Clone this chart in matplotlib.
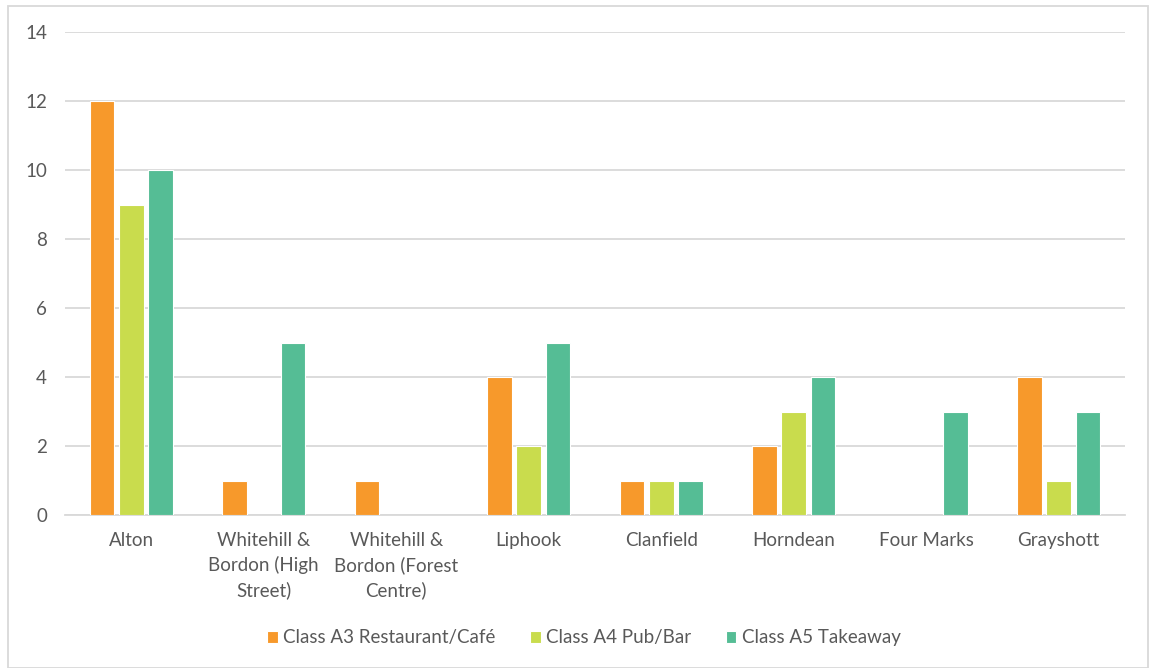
import numpy as np
import matplotlib
matplotlib.use("Agg")
import matplotlib.pyplot as plt
from matplotlib.patches import Rectangle

# Town centres and counts of units by use class
towns = ["Alton", "Whitehill &\nBordon (High\nStreet)", "Whitehill &\nBordon (Forest\nCentre)",
         "Liphook", "Clanfield", "Horndean", "Four Marks", "Grayshott"]
series_names = ["Class A3 Restaurant/Café", "Class A4 Pub/Bar", "Class A5 Takeaway"]
a3_restaurant_cafe = [12, 1, 1, 4, 1, 2, 0, 4]
a4_pub_bar = [9, 0, 0, 2, 1, 3, 0, 1]
a5_takeaway = [10, 5, 0, 5, 1, 4, 3, 3]
y_ticks = [0, 2, 4, 6, 8, 10, 12, 14]

colors = ["#F7992B", "#C9DC4D", "#55BD95"]
text_color = "#595959"

plt.rcParams["font.family"] = ["Lato", "DejaVu Sans"]

fig = plt.figure(figsize=(11.51, 6.68), dpi=100)
ax = fig.add_axes([65 / 1151, 153 / 668, 1060 / 1151, 483 / 668])

x = np.arange(len(towns))
slot = 0.22
for i, (vals, name, c) in enumerate(zip([a3_restaurant_cafe, a4_pub_bar, a5_takeaway], series_names, colors)):
    v = np.array(vals, dtype=float)
    v[v == 0] = np.nan
    ax.bar(x + (i - 1) * slot, v, width=0.185, color=c, edgecolor="white",
           linewidth=0.8, label=name, zorder=3)

ax.set_xlim(-0.5, len(towns) - 0.5)
ax.set_ylim(0, 14)
ax.set_yticks(y_ticks)
ax.set_xticks(x)
ax.set_xticklabels(towns, linespacing=1.5)
ax.yaxis.grid(True, color="#D9D9D9", linewidth=1.3, zorder=0)
ax.set_axisbelow(True)
for s in ["top", "right", "left"]:
    ax.spines[s].set_visible(False)
ax.spines["bottom"].set_color("#D9D9D9")
ax.spines["bottom"].set_linewidth(1.3)
ax.tick_params(axis="both", length=0, labelsize=13.5, colors=text_color)
ax.tick_params(axis="x", pad=12)
ax.tick_params(axis="y", pad=13)

leg = fig.legend(loc="center", bbox_to_anchor=(584 / 1151, 1 - 638 / 668), ncol=3,
                 frameon=False, fontsize=13.5, handlelength=0.55, handleheight=0.55,
                 handletextpad=0.3, columnspacing=1.85)
for t in leg.get_texts():
    t.set_color(text_color)

fig.patches.append(Rectangle((8 / 1151, 0), 1140 / 1151, 1 - 6 / 668, transform=fig.transFigure,
                             fill=False, edgecolor="#D9D9D9", linewidth=1.3))

fig.savefig("out.png", dpi=100, facecolor="white")
